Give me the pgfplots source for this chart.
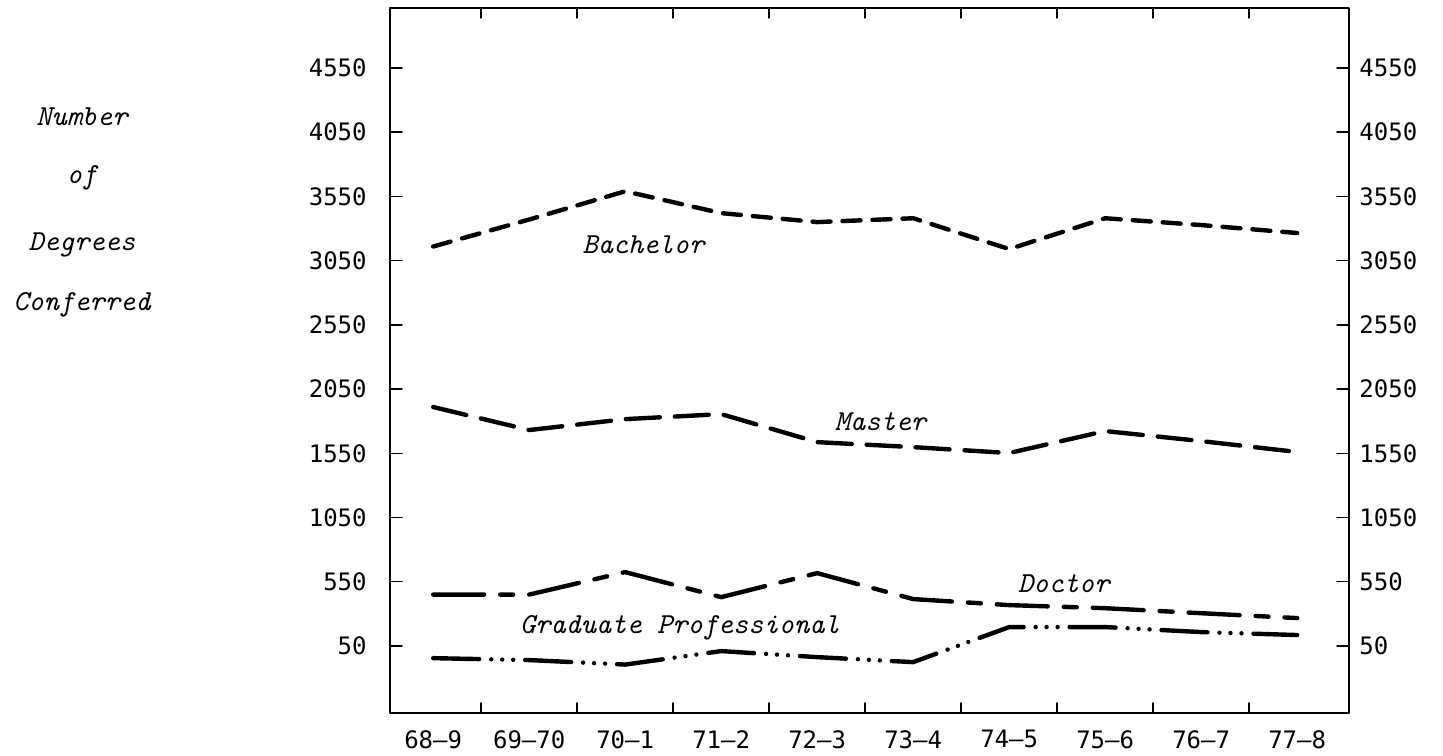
\documentclass[border=0pt]{standalone}
\usepackage{fontspec}
\setmainfont{DejaVu Sans Mono}
\usepackage{pgfplots}
\pgfplotsset{compat=1.18}
\tikzset{lab/.style={font=\ttfamily\itshape\fontsize{14.5}{16}\selectfont}}

\begin{document}
\begin{tikzpicture}
\pgfplotsset{
  every axis/.append style={
    scale only axis, width=479.5pt, height=352.5pt,
    xmin=-0.45, xmax=9.54, ymin=-472, ymax=5017,
    /pgf/number format/assume math mode=true,
    /pgf/number format/1000 sep={},
    tick label style={font=\fontsize{12}{14}\selectfont},
    ytick={50,550,1050,1550,2050,2550,3050,3550,4050,4550},
  },
}
\begin{axis}[
  axis line style={line width=0.75pt},
  every tick/.style={line width=0.75pt, black},
  xtick={0,...,9},
  xticklabels={68–9,69–70,70–1,71–2,72–3,73–4,74–5,75–6,76–7,77–8},
  major x tick style={draw=none},
  minor xtick={0.5,1.5,...,8.5},
  minor tick length=5pt,
  major tick length=6pt,
  tick align=inside,
  xtick pos=both, ytick pos=both,
  xticklabel pos=bottom, yticklabel pos=left,
  xticklabel style={anchor=north, inner sep=0pt, yshift=-8.5pt},
  yticklabel style={anchor=east, inner sep=0pt, xshift=-11.5pt},
  line cap=round, line join=round,
]
% Bachelor
\addplot[black, line width=2.2pt, dash pattern=on 9pt off 6pt] coordinates {
  (0,3160) (1,3370) (2,3590) (3,3420) (4,3350) (5,3380) (6,3140) (7,3380) (8,3327) (9,3265)};
% Master
\addplot[black, line width=2.2pt, dash pattern=on 17pt off 7.5pt] coordinates {
  (0,1910) (1,1731) (2,1816) (3,1855) (4,1637) (5,1598) (6,1552) (7,1723) (8,1645) (9,1560)};
% Doctor
\addplot[black, line width=2.2pt, dash pattern=on 25.5pt off 8pt on 6.5pt off 8pt] coordinates {
  (0,450) (1,450) (2,625) (3,430) (4,617) (5,415) (6,368) (7,344) (8,305) (9,267)};
% Graduate Professional
\addplot[black, line width=2.2pt, dash pattern=on 23pt off 6pt on 0pt off 5.5pt on 0pt off 5.5pt on 0pt off 6pt] coordinates {
  (0,-45) (1,-60) (2,-95) (3,10) (4,-37) (5,-76) (6,197) (7,197) (8,158) (9,135)};

\node[lab] at (axis cs:2.19,3172) {Bachelor};
\node[lab] at (axis cs:4.66,1793) {Master};
\node[lab] at (axis cs:6.57,539) {Doctor};
\node[lab] at (axis cs:2.57,189) {Graduate Professional};
\end{axis}

\begin{axis}[
  hide x axis,
  axis y line*=right,
  y axis line style={draw=none},
  major tick length=0pt,
  yticklabel style={anchor=west, inner sep=0pt, xshift=5pt},
]
\end{axis}

\node[lab] at (-154pt,298pt) {Number};
\node[lab] at (-154pt,267.5pt) {of};
\node[lab] at (-154pt,234pt) {Degrees};
\node[lab] at (-154pt,204pt) {Conferred};

\pgfresetboundingbox
\path (-195pt,-21pt) rectangle (526.5pt,356.5pt);
\end{tikzpicture}
\end{document}
